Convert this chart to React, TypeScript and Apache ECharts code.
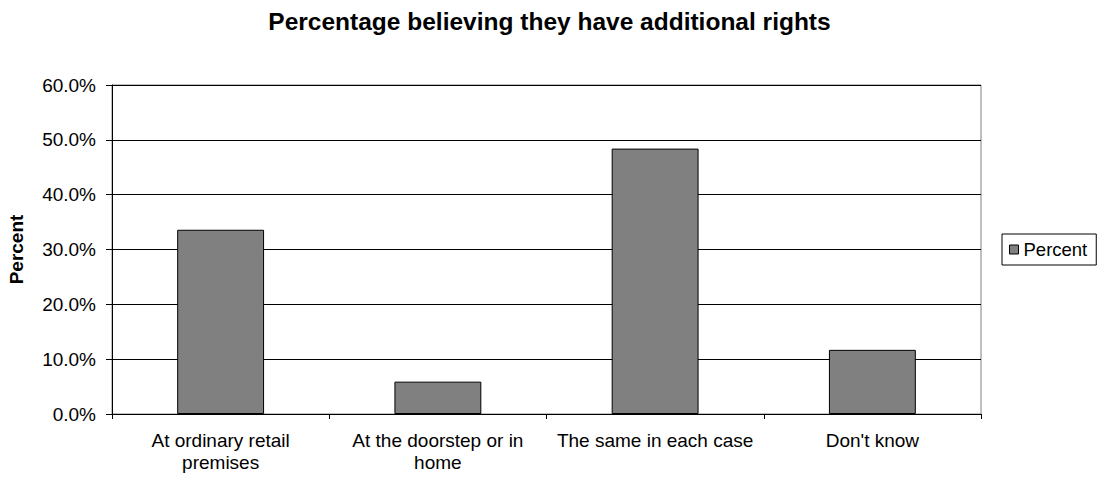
import React, { useEffect, useRef } from "react";
import * as echarts from "echarts";

const categories = [
  "At ordinary retail\npremises",
  "At the doorstep or in\nhome",
  "The same in each case",
  "Don't know",
];
const percentValues = [33.6, 5.9, 48.4, 11.7];
const yTicks = { min: 0, max: 60, interval: 10 };

const FONT = "'Liberation Sans', Arial, sans-serif";

export default function App() {
  const ref = useRef<HTMLDivElement>(null);

  useEffect(() => {
    if (!ref.current) return;
    const chart = echarts.init(ref.current, null, { renderer: "svg" });
    chart.setOption({
      animation: false,
      backgroundColor: "#ffffff",
      textStyle: { fontFamily: FONT },
      title: {
        text: "Percentage believing they have additional rights",
        left: "center",
        top: 4,
        textStyle: { fontFamily: FONT, fontSize: 24.5, fontWeight: "bold", color: "#000" },
      },
      legend: {
        data: ["Percent"],
        left: 1002,
        top: 234,
        orient: "vertical",
        padding: [6, 9, 6, 7],
        borderColor: "#000",
        borderWidth: 1,
        icon: "rect",
        itemWidth: 9,
        itemHeight: 9,
        itemGap: 4,
        itemStyle: { color: "#808080", borderColor: "#000", borderWidth: 1 },
        textStyle: { fontFamily: FONT, fontSize: 18.5, color: "#000" },
      },
      grid: {
        left: 112,
        right: 118,
        top: 85,
        bottom: 63,
        show: true,
        borderColor: "#808080",
        borderWidth: 1,
        containLabel: false,
        outerBoundsMode: "none",
      },
      xAxis: {
        type: "category",
        data: categories,
        axisLine: { lineStyle: { color: "#000", width: 1 } },
        axisTick: { show: true, length: 5, lineStyle: { color: "#000" } },
        axisLabel: {
          color: "#000",
          fontFamily: FONT,
          fontSize: 19,
          lineHeight: 22,
          margin: 15,
          interval: 0,
        },
      },
      yAxis: {
        type: "value",
        min: yTicks.min,
        max: yTicks.max,
        interval: yTicks.interval,
        name: "Percent",
        nameLocation: "middle",
        nameGap: 86,
        nameTextStyle: { fontFamily: FONT, fontSize: 19, fontWeight: "bold", color: "#000" },
        axisLine: { show: true, lineStyle: { color: "#000", width: 1 } },
        axisTick: { show: true, length: 6, lineStyle: { color: "#000" } },
        axisLabel: {
          color: "#000",
          fontFamily: FONT,
          fontSize: 19,
          margin: 16,
          formatter: (v: number) => v.toFixed(1) + "%",
        },
        splitLine: { show: true, lineStyle: { color: "#000", width: 1 } },
      },
      series: [
        {
          name: "Percent",
          type: "bar",
          data: percentValues,
          barCategoryGap: "60%",
          itemStyle: { color: "#808080", borderColor: "#000", borderWidth: 1 },
        },
      ],
    });
    return () => chart.dispose();
  }, []);

  return <div ref={ref} style={{ width: 1099, height: 477, position: "absolute", left: 0, top: 0 }} />;
}
